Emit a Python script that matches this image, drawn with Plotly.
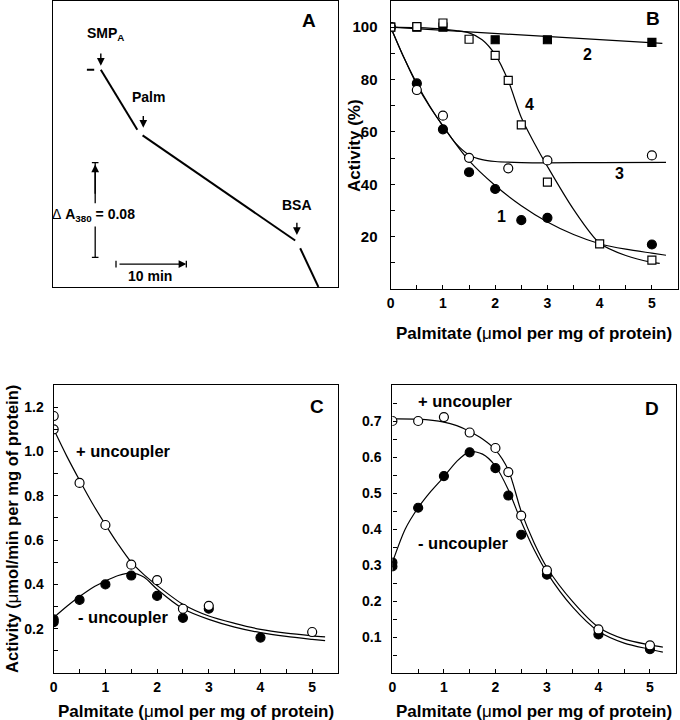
import plotly.graph_objects as go

# ---------------- data ----------------
# Panel A (schematic trace, time in min, absorbance units)
a_trace_x = [4.86, 5.90, None, 6.84, 12.03, None, 12.78, 34.48, None, 35.19, 36.46, 37.78]
a_trace_y = [0.1832, 0.1832, None, 0.1832, 0.1326, None, 0.1278, 0.0392, None, 0.0327, 0.0173, 0.0]

# Panel B
b_x1 = [0, 0.5, 1, 1.5, 2, 2.5, 3, 5]
b_y1 = [100, 78.5, 61, 44.6, 38.2, 26.3, 27.2, 17]
b_x2 = [0, 0.5, 1, 2, 3, 5]
b_y2 = [100, 100, 100, 95.2, 95.2, 94.2]
b_x3 = [0, 0.5, 1, 1.5, 2.25, 3, 5]
b_y3 = [100, 76, 66.2, 50.1, 46.1, 49.1, 51]
b_x4 = [0, 0.5, 1, 1.5, 2, 2.25, 2.5, 3, 4, 5]
b_y4 = [100, 100.2, 101.6, 95.4, 89.2, 79.7, 62.7, 40.8, 17.2, 11]

b_c1x = [0, 0.25, 0.5, 0.75, 1, 1.5, 2, 2.5, 3, 3.5, 4, 4.5, 5, 5.27]
b_c1y = [100, 88.5, 78.5, 69.8, 62.2, 49, 39.5, 31.8, 25.6, 20.8, 17.3, 15.2, 13.7, 12.9]
b_c2x = [0, 5.2]
b_c2y = [100, 93.8]
b_c3x = [0, 0.25, 0.5, 0.75, 1, 1.25, 1.5, 1.75, 2, 2.5, 3, 4, 5.27]
b_c3y = [100, 88.5, 78, 69.5, 62.3, 55.5, 51.2, 49.4, 48.7, 48.3, 48.2, 48.3, 48.4]
b_c4x = [0, 0.5, 1, 1.25, 1.5, 1.75, 2, 2.25, 2.5, 2.75, 3, 3.5, 4, 4.5, 5, 5.15]
b_c4y = [100, 99.8, 99.3, 98.7, 97.8, 95.2, 89.5, 79.5, 65.5, 55.7, 46.8, 30.4, 17.5, 12.8, 10.2, 9.8]

# Panel C
c_xp = [0, 0, 0.5, 1, 1.5, 2, 2.5, 3, 5]
c_yp = [1.16, 1.10, 0.858, 0.668, 0.489, 0.419, 0.29, 0.303, 0.185]
c_xm = [0, 0, 0.5, 1, 1.5, 2, 2.5, 3, 4]
c_ym = [0.242, 0.23, 0.33, 0.40, 0.44, 0.348, 0.249, 0.29, 0.16]
c_cpx = [0, 0.25, 0.5, 0.75, 1, 1.25, 1.5, 1.75, 2, 2.5, 3, 3.5, 4, 4.5, 5, 5.25]
c_cpy = [1.10, 0.98, 0.87, 0.765, 0.67, 0.58, 0.50, 0.443, 0.395, 0.31, 0.257, 0.224, 0.197, 0.18, 0.168, 0.163]
c_cmx = [0, 0.25, 0.5, 0.75, 1, 1.25, 1.5, 1.75, 2, 2.5, 3, 3.5, 4, 4.5, 5, 5.25]
c_cmy = [0.25, 0.30, 0.345, 0.385, 0.415, 0.44, 0.452, 0.432, 0.378, 0.29, 0.242, 0.207, 0.182, 0.165, 0.152, 0.146]

# Panel D
d_xp = [0, 0.5, 1, 1.5, 2, 2.25, 2.5, 3, 4, 5]
d_yp = [0.70, 0.70, 0.711, 0.668, 0.625, 0.558, 0.437, 0.285, 0.121, 0.077]
d_xm = [0, 0, 0.5, 1, 1.5, 2, 2.25, 2.5, 3, 4, 5]
d_ym = [0.307, 0.296, 0.459, 0.547, 0.613, 0.569, 0.493, 0.384, 0.273, 0.107, 0.066]
d_cpx = [0, 0.5, 1, 1.25, 1.5, 1.75, 2, 2.25, 2.5, 2.75, 3, 3.5, 4, 4.5, 5, 5.25]
d_cpy = [0.706, 0.705, 0.697, 0.687, 0.671, 0.65, 0.62, 0.564, 0.449, 0.362, 0.293, 0.198, 0.127, 0.094, 0.078, 0.072]
d_cmx = [0, 0.25, 0.5, 0.75, 1, 1.25, 1.5, 1.75, 2, 2.25, 2.5, 2.75, 3, 3.5, 4, 4.5, 5, 5.25]
d_cmy = [0.307, 0.40, 0.459, 0.505, 0.545, 0.588, 0.615, 0.608, 0.575, 0.509, 0.421, 0.343, 0.279, 0.183, 0.116, 0.083, 0.066, 0.058]

x_ticks = [0, 1, 2, 3, 4, 5]
b_yticks = [20, 40, 60, 80, 100]
c_yticks = [0.2, 0.4, 0.6, 0.8, 1.0, 1.2]
d_yticks = [0.1, 0.2, 0.3, 0.4, 0.5, 0.6, 0.7]
xtitle = "Palmitate (<span style='font-weight:normal'>μ</span>mol per mg of protein)"

# ---------------- figure ----------------
W, H = 680, 720
FONT = "Liberation Sans, Arial, sans-serif"


def px(x):
    return x / W


def py(y):
    return 1 - y / H


fig = go.Figure()

# Panel A
fig.add_trace(go.Scatter(x=a_trace_x, y=a_trace_y, mode="lines",
                         line=dict(color="black", width=2), xaxis="x", yaxis="y",
                         showlegend=False, hoverinfo="skip"))
# scale bars (lines + caps)
sb_x = [6.04, 6.04, None, 5.57, 6.51, None, 5.57, 6.51, None, 6.04, 6.04, None, 9.0, 9.0, None, 19.0, 19.0]
sb_y = [0.0249, 0.0509, None, 0.1049, 0.1049, None, 0.0249, 0.0249, None, 0.0705, 0.1049, None,
        0.0165, 0.0221, None, 0.0165, 0.0221]
fig.add_trace(go.Scatter(x=sb_x, y=sb_y, mode="lines", line=dict(color="black", width=1.3),
                         xaxis="x", yaxis="y", showlegend=False, hoverinfo="skip"))


def mk(x, y, ax, yax, symbol, filled, size=9):
    return go.Scatter(x=x, y=y, mode="markers", xaxis=ax, yaxis=yax, showlegend=False,
                      marker=dict(symbol=symbol, size=size,
                                  color="black" if filled else "white",
                                  line=dict(color="black", width=1.2)),
                      hoverinfo="skip")


def ln(x, y, ax, yax, shape="spline"):
    return go.Scatter(x=x, y=y, mode="lines", xaxis=ax, yaxis=yax, showlegend=False,
                      line=dict(color="black", width=1.2, shape=shape, smoothing=0.8),
                      hoverinfo="skip")

# Panel B
fig.add_trace(ln(b_c1x, b_c1y, "x2", "y2"))
fig.add_trace(ln(b_c2x, b_c2y, "x2", "y2", "linear"))
fig.add_trace(ln(b_c3x, b_c3y, "x2", "y2"))
fig.add_trace(ln(b_c4x, b_c4y, "x2", "y2"))
fig.add_trace(mk(b_x2, b_y2, "x2", "y2", "square", True, 8))
fig.add_trace(mk(b_x1, b_y1, "x2", "y2", "circle", True, 9))
fig.add_trace(mk(b_x3, b_y3, "x2", "y2", "circle", False, 9))
fig.add_trace(mk(b_x4, b_y4, "x2", "y2", "square", False, 8))

# Panel C
fig.add_trace(ln(c_cpx, c_cpy, "x3", "y3"))
fig.add_trace(ln(c_cmx, c_cmy, "x3", "y3"))
fig.add_trace(mk(c_xm, c_ym, "x3", "y3", "circle", True, 9))
fig.add_trace(mk(c_xp, c_yp, "x3", "y3", "circle", False, 9))

# Panel D
fig.add_trace(ln(d_cpx, d_cpy, "x4", "y4"))
fig.add_trace(ln(d_cmx, d_cmy, "x4", "y4"))
fig.add_trace(mk(d_xm, d_ym, "x4", "y4", "circle", True, 9))
fig.add_trace(mk(d_xp, d_yp, "x4", "y4", "circle", False, 9))


def tf(size):
    return dict(family=FONT, size=size, color="black", weight="bold")


def xa(domain):
    return dict(domain=domain, range=[0, 5.5], showline=True, mirror=True, linecolor="black",
                linewidth=1.3, showgrid=False, zeroline=False, ticks="inside", ticklen=4,
                tickcolor="black", tickwidth=1.2, tickvals=x_ticks, tickfont=tf(14),
                ticklabelstandoff=1,
                minor=dict(dtick=0.5, tick0=0, ticks="inside", ticklen=4, tickcolor="black",
                           tickwidth=1.2, showgrid=False))


def ya(domain, rng, tv, minor_dtick, standoff, size=14):
    return dict(domain=domain, range=rng, showline=True, mirror=True, linecolor="black",
                linewidth=1.3, showgrid=False, zeroline=False, ticks="inside", ticklen=4,
                tickcolor="black", tickwidth=1.2, tickvals=tv, tickfont=tf(size),
                ticklabelstandoff=standoff,
                minor=dict(dtick=minor_dtick, tick0=0, ticks="inside", ticklen=4,
                           tickcolor="black", tickwidth=1.2, showgrid=False))


c_tick_text = ["%.1f" % v for v in c_yticks]
d_tick_text = ["%.1f" % v for v in d_yticks]

fig.update_layout(
    width=W, height=H, margin=dict(l=0, r=0, t=0, b=0),
    paper_bgcolor="white", plot_bgcolor="white",
    font=dict(family=FONT, size=14, color="black", weight="bold"),
    xaxis=dict(domain=[px(49), px(336)], range=[0, 40.57], showline=True, mirror=True,
               linecolor="black", linewidth=1.3, showgrid=False, zeroline=False,
               showticklabels=False, ticks=""),
    yaxis=dict(domain=[py(287), py(1)], range=[0, 0.2411], showline=True, mirror=True,
               linecolor="black", linewidth=1.3, showgrid=False, zeroline=False,
               showticklabels=False, ticks=""),
    xaxis2=dict(xa([px(389), px(678)]), anchor="y2"),
    yaxis2=dict(ya([py(289), py(1)], [0, 110], b_yticks, 10, 9, 15), anchor="x2"),
    xaxis3=dict(xa([px(50), px(336)]), anchor="y3"),
    yaxis3=dict(ya([py(673), py(385)], [0, 1.3], c_yticks, 0.1, 6), anchor="x3",
                ticktext=c_tick_text),
    xaxis4=dict(xa([px(390.7), px(675.7)]), anchor="y4"),
    yaxis4=dict(ya([py(673), py(385)], [0, 0.8], d_yticks, 0.05, 7), anchor="x4",
                ticktext=d_tick_text),
)

ann = []


def txt(x, y, s, xref, yref, size=14, xanchor="center", yanchor="middle", angle=0):
    ann.append(dict(x=x, y=y, text=s, xref=xref, yref=yref, showarrow=False,
                    xanchor=xanchor, yanchor=yanchor, textangle=angle,
                    font=tf(size)))


def arrow(x, y, ax_, ay_, xref="x", yref="y"):
    ann.append(dict(x=x, y=y, ax=ax_, ay=ay_, xref=xref, yref=yref, axref=xref, ayref=yref,
                    showarrow=True, arrowhead=2, arrowsize=1.1, arrowwidth=1.4,
                    arrowcolor="black", text=" "))

# Panel A annotations
txt(7.5, 0.2131, "SMP<sub>A</sub>", "x", "y", 14)
arrow(6.84, 0.1866, 6.84, 0.2048)
txt(13.6, 0.160, "Palm", "x", "y", 14)
arrow(12.88, 0.1343, 12.88, 0.1522)
txt(34.8, 0.0691, "BSA", "x", "y", 14)
arrow(34.72, 0.0439, 34.72, 0.0621)
arrow(6.04, 0.1032, 6.04, 0.0705)
arrow(19.0, 0.0193, 9.0, 0.0193)
txt(5.8, 0.0607, "<span style='font-weight:normal'>Δ</span> A<sub>380</sub> = 0.08", "x", "y", 14)
txt(13.8, 0.0095, "10 min", "x", "y", 14)
txt(px(307), py(20), "A", "paper", "paper", 19)

# Panel B labels
txt(px(652.7), py(18.3), "B", "paper", "paper", 19)
txt(3.76, 89.5, "2", "x2", "y2", 16)
txt(2.66, 70.6, "4", "x2", "y2", 16)
txt(4.38, 44, "3", "x2", "y2", 16)
txt(2.12, 27.8, "1", "x2", "y2", 16)
txt(px(533.5), py(333), xtitle, "paper", "paper", 17)
txt(px(353), py(145), "Activity (%)", "paper", "paper", 17, angle=-90)

# Panel C labels
txt(px(315), py(406.7), "C", "paper", "paper", 19)
txt(0.39, 1.002, "+ uncoupler", "x3", "y3", 16.5, xanchor="left")
txt(0.44, 0.252, "- uncoupler", "x3", "y3", 16.5, xanchor="left")
txt(px(193), py(711), xtitle, "paper", "paper", 17)
txt(px(8), py(529), "Activity (<span style='font-weight:normal'>μ</span>mol/min per mg of protein)",
    "paper", "paper", 16.5, angle=-90)

# Panel D labels
txt(px(651.7), py(408.3), "D", "paper", "paper", 19)
txt(0.45, 0.755, "+ uncoupler", "x4", "y4", 16.5, xanchor="left")
txt(0.45, 0.36, "- uncoupler", "x4", "y4", 16.5, xanchor="left")
txt(px(533), py(711), xtitle, "paper", "paper", 17)

fig.update_layout(annotations=ann)
fig.write_html("out.html", config={"displayModeBar": False},
               post_script="document.body.style.margin='0px';document.body.style.padding='0px';")
